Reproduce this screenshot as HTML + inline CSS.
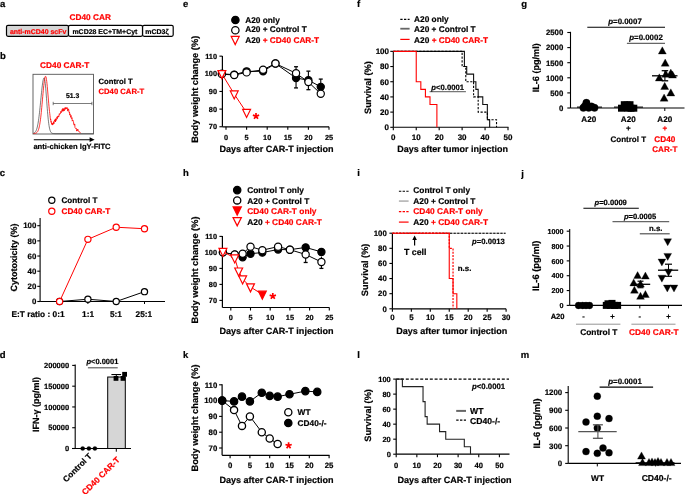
<!DOCTYPE html>
<html><head><meta charset="utf-8"><style>
html,body{margin:0;padding:0;background:#fff;width:685px;height:494px;overflow:hidden}
svg{display:block;will-change:transform}
text{font-family:"Liberation Sans",sans-serif;text-rendering:geometricPrecision}
</style></head><body>
<svg width="685" height="494" viewBox="0 0 685 494">
<text x="0.00" y="6.90" font-size="9.5" text-anchor="start" fill="#000" stroke="#000" stroke-width="0.2" font-weight="bold">a</text>
<text x="0.00" y="59.00" font-size="9.5" text-anchor="start" fill="#000" stroke="#000" stroke-width="0.2" font-weight="bold">b</text>
<text x="-0.30" y="176.10" font-size="9.5" text-anchor="start" fill="#000" stroke="#000" stroke-width="0.2" font-weight="bold">c</text>
<text x="-0.30" y="357.90" font-size="9.5" text-anchor="start" fill="#000" stroke="#000" stroke-width="0.2" font-weight="bold">d</text>
<text x="183.00" y="7.10" font-size="9.5" text-anchor="start" fill="#000" stroke="#000" stroke-width="0.2" font-weight="bold">e</text>
<text x="183.00" y="176.10" font-size="9.5" text-anchor="start" fill="#000" stroke="#000" stroke-width="0.2" font-weight="bold">h</text>
<text x="183.00" y="357.90" font-size="9.5" text-anchor="start" fill="#000" stroke="#000" stroke-width="0.2" font-weight="bold">k</text>
<text x="357.00" y="6.80" font-size="9.5" text-anchor="start" fill="#000" stroke="#000" stroke-width="0.2" font-weight="bold">f</text>
<text x="357.30" y="176.10" font-size="9.5" text-anchor="start" fill="#000" stroke="#000" stroke-width="0.2" font-weight="bold">i</text>
<text x="357.30" y="357.70" font-size="9.5" text-anchor="start" fill="#000" stroke="#000" stroke-width="0.2" font-weight="bold">l</text>
<text x="521.30" y="7.00" font-size="9.5" text-anchor="start" fill="#000" stroke="#000" stroke-width="0.2" font-weight="bold">g</text>
<text x="521.30" y="177.00" font-size="9.5" text-anchor="start" fill="#000" stroke="#000" stroke-width="0.2" font-weight="bold">j</text>
<text x="520.80" y="357.90" font-size="9.5" text-anchor="start" fill="#000" stroke="#000" stroke-width="0.2" font-weight="bold">m</text>
<text x="90.20" y="19.60" font-size="8.3" text-anchor="middle" fill="#ff0000" stroke="#ff0000" stroke-width="0.2" font-weight="bold">CD40 CAR</text>
<rect x="6.5" y="25.3" width="62" height="11" rx="1.5" fill="#d6d6d6" stroke="#000" stroke-width="1.2"/>
<rect x="68.5" y="25.3" width="74" height="11" rx="1.5" fill="#fff" stroke="#000" stroke-width="1.2"/>
<rect x="142.6" y="25.3" width="30.6" height="11" rx="1.5" fill="#fff" stroke="#000" stroke-width="1.2"/>
<text x="38.10" y="33.80" font-size="6.96" text-anchor="middle" fill="#ff0000" stroke="#ff0000" stroke-width="0.2" font-weight="bold">anti-mCD40 scFv</text>
<text x="104.90" y="33.80" font-size="6.96" text-anchor="middle" fill="#000" stroke="#000" stroke-width="0.2" font-weight="bold">mCD28 EC+TM+Cyt</text>
<text x="157.00" y="33.80" font-size="6.96" text-anchor="middle" fill="#000" stroke="#000" stroke-width="0.2" font-weight="bold">mCD3ζ</text>
<text x="64.70" y="67.80" font-size="8.3" text-anchor="middle" fill="#ff0000" stroke="#ff0000" stroke-width="0.2" font-weight="bold">CD40 CAR-T</text>
<rect x="33" y="74.3" width="60.5" height="59.7" fill="#fff" stroke="#555" stroke-width="0.9"/>
<polyline points="33.50,133.28 33.75,133.19 34.00,133.08 34.25,132.95 34.50,132.79 34.75,132.59 35.00,132.35 35.25,132.07 35.50,131.73 35.75,131.33 36.00,130.86 36.25,130.30 36.50,129.67 36.75,128.93 37.00,128.09 37.25,127.13 37.50,126.05 37.75,124.84 38.00,123.49 38.25,122.01 38.50,120.38 38.75,118.61 39.00,116.70 39.25,114.65 39.50,112.48 39.75,110.19 40.00,107.81 40.25,105.35 40.50,102.82 40.75,100.27 41.00,97.71 41.25,95.17 41.50,92.69 41.75,90.30 42.00,88.03 42.25,85.91 42.50,83.99 42.75,82.28 43.00,80.82 43.25,79.62 43.50,78.71 43.75,78.11 44.00,77.83 44.25,77.90 44.50,78.51 44.75,79.65 45.00,81.30 45.25,83.40 45.50,85.90 45.75,88.72 46.00,91.80 46.25,95.05 46.50,98.40 46.75,101.78 47.00,105.13 47.25,108.37 47.50,111.47 47.75,114.38 48.00,117.07 48.25,119.53 48.50,121.74 48.75,123.71 49.00,125.43 49.25,126.91 49.50,128.19 49.75,129.26 50.00,130.15 50.25,130.89 50.50,131.49 50.75,131.98 51.00,132.36 51.25,132.67 51.50,132.90 51.75,133.08 52.00,133.22 52.25,133.33 52.50,133.40 52.75,133.46 53.00,133.50 53.25,133.53 53.50,133.55 53.75,133.57 54.00,133.58 54.25,133.59 54.50,133.59 54.75,133.59 55.00,133.60 55.25,133.60 55.50,133.60 55.75,133.60 56.00,133.60 56.25,133.60 56.50,133.60 56.75,133.60 57.00,133.60 57.25,133.60 57.50,133.60 57.75,133.60 58.00,133.60 58.25,133.60 58.50,133.60 58.75,133.60 59.00,133.60 59.25,133.60 59.50,133.60 59.75,133.60 60.00,133.60 60.25,133.60 60.50,133.60 60.75,133.60 61.00,133.60 61.25,133.60 61.50,133.60 61.75,133.60 62.00,133.60 62.25,133.60 62.50,133.60 62.75,133.60 63.00,133.60 63.25,133.60 63.50,133.60 63.75,133.60 64.00,133.60 64.25,133.60 64.50,133.60 64.75,133.60 65.00,133.60 65.25,133.60 65.50,133.60 65.75,133.60 66.00,133.60 66.25,133.60 66.50,133.60 66.75,133.60 67.00,133.60 67.25,133.60 67.50,133.60 67.75,133.60 68.00,133.60 68.25,133.60 68.50,133.60 68.75,133.60 69.00,133.60 69.25,133.60 69.50,133.60 69.75,133.60 70.00,133.60 70.25,133.60 70.50,133.60 70.75,133.60 71.00,133.60 71.25,133.60 71.50,133.60 71.75,133.60 72.00,133.60 72.25,133.60 72.50,133.60 72.75,133.60 73.00,133.60 73.25,133.60 73.50,133.60 73.75,133.60 74.00,133.60 74.25,133.60 74.50,133.60 74.75,133.60 75.00,133.60 75.25,133.60 75.50,133.60 75.75,133.60 76.00,133.60 76.25,133.60 76.50,133.60 76.75,133.60 77.00,133.60 77.25,133.60 77.50,133.60 77.75,133.60 78.00,133.60 78.25,133.60 78.50,133.60 78.75,133.60 79.00,133.60 79.25,133.60 79.50,133.60 79.75,133.60 80.00,133.60 80.25,133.60 80.50,133.60 80.75,133.60 81.00,133.60 81.25,133.60 81.50,133.60 81.75,133.60 82.00,133.60 82.25,133.60 82.50,133.60 82.75,133.60 83.00,133.60 83.25,133.60 83.50,133.60 83.75,133.60 84.00,133.60 84.25,133.60 84.50,133.60 84.75,133.60 85.00,133.60 85.25,133.60 85.50,133.60 85.75,133.60 86.00,133.60 86.25,133.60 86.50,133.60 86.75,133.60 87.00,133.60 87.25,133.60 87.50,133.60 87.75,133.60 88.00,133.60 88.25,133.60 88.50,133.60 88.75,133.60 89.00,133.60 89.25,133.60 89.50,133.60 89.75,133.60 90.00,133.60 90.25,133.60 90.50,133.60 90.75,133.60 91.00,133.60 91.25,133.60 91.50,133.60 91.75,133.60 92.00,133.60 92.25,133.60 92.50,133.60 92.75,133.60 93.00,133.60 93.25,133.60" fill="none" stroke="#222" stroke-width="0.6"/>
<polyline points="33.50,133.51 33.75,133.50 34.00,133.48 34.25,133.46 34.50,133.44 34.75,133.41 35.00,133.37 35.25,133.32 35.50,133.25 35.75,133.17 36.00,133.07 36.25,132.95 36.50,132.80 36.75,132.61 37.00,132.38 37.25,132.11 37.50,131.77 37.75,131.36 38.00,130.88 38.25,130.30 38.50,129.63 38.75,128.84 39.00,127.93 39.25,126.87 39.50,125.67 39.75,124.32 40.00,122.80 40.25,121.11 40.50,119.24 40.75,117.21 41.00,115.00 41.25,112.64 41.50,110.14 41.75,107.51 42.00,104.78 42.25,101.97 42.50,99.13 42.75,96.28 43.00,93.47 43.25,90.73 43.50,88.12 43.75,85.67 44.00,83.43 44.25,81.44 44.50,79.73 44.75,78.34 45.00,77.29 45.25,76.59 45.50,76.27 45.75,76.39 46.00,77.00 46.25,78.09 46.50,79.61 46.75,81.53 47.00,83.79 47.25,86.33 47.50,89.08 47.75,91.99 48.00,94.97 48.25,97.97 48.50,100.93 48.75,103.79 49.00,106.52 49.25,109.07 49.50,111.43 49.75,113.56 50.00,115.46 50.25,117.76 50.50,119.82 50.75,119.23 51.00,122.32 51.25,121.46 51.50,122.70 51.75,124.27 52.00,122.98 52.25,124.87 52.50,123.53 52.75,124.85 53.00,124.69 53.25,123.35 53.50,121.71 53.75,124.00 54.00,123.37 54.25,121.62 54.50,120.14 54.75,121.13 55.00,121.43 55.25,118.97 55.50,121.94 55.75,118.63 56.00,120.29 56.25,120.42 56.50,120.12 56.75,119.04 57.00,116.82 57.25,118.71 57.50,116.87 57.75,116.27 58.00,116.83 58.25,115.81 58.50,117.17 58.75,116.80 59.00,115.90 59.25,113.82 59.50,114.37 59.75,114.42 60.00,113.09 60.25,113.22 60.50,113.44 60.75,111.33 61.00,111.36 61.25,112.69 61.50,111.21 61.75,111.11 62.00,109.58 62.25,109.84 62.50,111.19 62.75,108.47 63.00,111.35 63.25,110.07 63.50,108.66 63.75,110.67 64.00,109.30 64.25,110.78 64.50,108.39 64.75,107.94 65.00,108.54 65.25,107.37 65.50,109.34 65.75,107.92 66.00,108.27 66.25,108.31 66.50,108.79 66.75,107.50 67.00,107.25 67.25,109.13 67.50,108.67 67.75,111.12 68.00,109.13 68.25,109.69 68.50,108.85 68.75,109.90 69.00,112.31 69.25,112.46 69.50,111.98 69.75,114.87 70.00,113.88 70.25,115.55 70.50,116.36 70.75,117.22 71.00,115.32 71.25,118.29 71.50,118.53 71.75,118.69 72.00,117.64 72.25,121.16 72.50,120.51 72.75,120.81 73.00,120.26 73.25,121.13 73.50,121.60 73.75,124.32 74.00,124.43 74.25,125.21 74.50,123.88 74.75,124.16 75.00,127.58 75.25,127.99 75.50,128.27 75.75,128.72 76.00,128.25 76.25,128.28 76.50,129.85 76.75,131.15 77.00,130.00 77.25,130.50 77.50,130.10 77.75,128.99 78.00,130.20 78.25,131.08 78.50,130.94 78.75,130.94 79.00,131.77 79.25,131.95 79.50,132.11 79.75,132.26 80.00,132.40 80.25,132.53 80.50,132.64 80.75,132.74" fill="none" stroke="#ff0000" stroke-width="0.8"/>
<line x1="53.20" y1="103.50" x2="91.90" y2="103.50" stroke="#444" stroke-width="0.7"/>
<line x1="53.20" y1="101.80" x2="53.20" y2="105.20" stroke="#444" stroke-width="0.7"/>
<line x1="91.90" y1="101.80" x2="91.90" y2="105.20" stroke="#444" stroke-width="0.7"/>
<text x="72.60" y="97.70" font-size="6.8" text-anchor="middle" fill="#000" stroke="#000" stroke-width="0.2" font-weight="bold">51.3</text>
<line x1="33.80" y1="139.70" x2="91.00" y2="139.70" stroke="#000" stroke-width="1.1"/>
<polygon points="94.6,139.7 89.6,137.3 89.6,142.1" fill="#000"/>
<text x="72.00" y="149.30" font-size="7.6" text-anchor="middle" fill="#000" stroke="#000" stroke-width="0.2" font-weight="bold">anti-chicken IgY-FITC</text>
<text x="98.50" y="84.30" font-size="7.7" text-anchor="start" fill="#000" stroke="#000" stroke-width="0.2" font-weight="bold">Control T</text>
<text x="98.50" y="94.30" font-size="7.7" text-anchor="start" fill="#ff0000" stroke="#ff0000" stroke-width="0.2" font-weight="bold">CD40 CAR-T</text>
<line x1="40.10" y1="218.00" x2="40.10" y2="301.50" stroke="#000" stroke-width="1.1"/>
<line x1="40.10" y1="301.50" x2="165.00" y2="301.50" stroke="#000" stroke-width="1.1"/>
<line x1="37.30" y1="301.50" x2="40.10" y2="301.50" stroke="#000" stroke-width="1.1"/>
<text x="36.30" y="304.20" font-size="7.9" text-anchor="end" fill="#000" stroke="#000" stroke-width="0.2" font-weight="bold">0</text>
<line x1="37.30" y1="286.34" x2="40.10" y2="286.34" stroke="#000" stroke-width="1.1"/>
<text x="36.30" y="289.04" font-size="7.9" text-anchor="end" fill="#000" stroke="#000" stroke-width="0.2" font-weight="bold">20</text>
<line x1="37.30" y1="271.18" x2="40.10" y2="271.18" stroke="#000" stroke-width="1.1"/>
<text x="36.30" y="273.88" font-size="7.9" text-anchor="end" fill="#000" stroke="#000" stroke-width="0.2" font-weight="bold">40</text>
<line x1="37.30" y1="256.02" x2="40.10" y2="256.02" stroke="#000" stroke-width="1.1"/>
<text x="36.30" y="258.72" font-size="7.9" text-anchor="end" fill="#000" stroke="#000" stroke-width="0.2" font-weight="bold">60</text>
<line x1="37.30" y1="240.86" x2="40.10" y2="240.86" stroke="#000" stroke-width="1.1"/>
<text x="36.30" y="243.56" font-size="7.9" text-anchor="end" fill="#000" stroke="#000" stroke-width="0.2" font-weight="bold">80</text>
<line x1="37.30" y1="225.70" x2="40.10" y2="225.70" stroke="#000" stroke-width="1.1"/>
<text x="36.30" y="228.40" font-size="7.9" text-anchor="end" fill="#000" stroke="#000" stroke-width="0.2" font-weight="bold">100</text>
<line x1="87.90" y1="301.50" x2="87.90" y2="304.00" stroke="#000" stroke-width="1"/>
<line x1="116.20" y1="301.50" x2="116.20" y2="304.00" stroke="#000" stroke-width="1"/>
<line x1="144.50" y1="301.50" x2="144.50" y2="304.00" stroke="#000" stroke-width="1"/>
<text x="17.20" y="257.40" font-size="9.0" text-anchor="middle" fill="#000" stroke="#000" stroke-width="0.2" font-weight="bold" transform="rotate(-90 17.2 257.4)">Cytotoxicity (%)</text>
<polyline points="59.60,301.50 87.90,299.23 116.20,301.50 144.50,291.65" fill="none" stroke="#000" stroke-width="1"/>
<polyline points="59.60,301.50 87.90,239.34 116.20,227.22 144.50,228.73" fill="none" stroke="#ff0000" stroke-width="1"/>
<circle cx="59.60" cy="301.50" r="3.1" fill="#fff" stroke="#000" stroke-width="1.2"/>
<circle cx="87.90" cy="299.23" r="3.1" fill="#fff" stroke="#000" stroke-width="1.2"/>
<circle cx="116.20" cy="301.50" r="3.1" fill="#fff" stroke="#000" stroke-width="1.2"/>
<circle cx="144.50" cy="291.65" r="3.1" fill="#fff" stroke="#000" stroke-width="1.2"/>
<circle cx="59.60" cy="301.50" r="3.1" fill="#fff" stroke="#ff0000" stroke-width="1.2"/>
<circle cx="87.90" cy="239.34" r="3.1" fill="#fff" stroke="#ff0000" stroke-width="1.2"/>
<circle cx="116.20" cy="227.22" r="3.1" fill="#fff" stroke="#ff0000" stroke-width="1.2"/>
<circle cx="144.50" cy="228.73" r="3.1" fill="#fff" stroke="#ff0000" stroke-width="1.2"/>
<circle cx="51.80" cy="200.30" r="3.1" fill="#fff" stroke="#000" stroke-width="1.2"/>
<circle cx="51.80" cy="211.30" r="3.1" fill="#fff" stroke="#ff0000" stroke-width="1.2"/>
<text x="61.50" y="203.20" font-size="8.1" text-anchor="start" fill="#000" stroke="#000" stroke-width="0.2" font-weight="bold">Control T</text>
<text x="61.50" y="214.20" font-size="8.2" text-anchor="start" fill="#ff0000" stroke="#ff0000" stroke-width="0.2" font-weight="bold">CD40 CAR-T</text>
<text x="11.50" y="317.10" font-size="8.3" text-anchor="start" fill="#000" stroke="#000" stroke-width="0.2" font-weight="bold">E:T ratio : 0:1</text>
<text x="88.10" y="317.10" font-size="8.3" text-anchor="middle" fill="#000" stroke="#000" stroke-width="0.2" font-weight="bold">1:1</text>
<text x="115.90" y="317.10" font-size="8.3" text-anchor="middle" fill="#000" stroke="#000" stroke-width="0.2" font-weight="bold">5:1</text>
<text x="143.90" y="317.10" font-size="8.3" text-anchor="middle" fill="#000" stroke="#000" stroke-width="0.2" font-weight="bold">25:1</text>
<line x1="75.20" y1="364.50" x2="75.20" y2="448.50" stroke="#000" stroke-width="1.1"/>
<line x1="72.00" y1="448.50" x2="131.00" y2="448.50" stroke="#000" stroke-width="1.1"/>
<line x1="72.20" y1="448.50" x2="75.20" y2="448.50" stroke="#000" stroke-width="1.1"/>
<text x="69.20" y="451.10" font-size="7.55" text-anchor="end" fill="#000" stroke="#000" stroke-width="0.2" font-weight="bold">0</text>
<line x1="72.20" y1="427.73" x2="75.20" y2="427.73" stroke="#000" stroke-width="1.1"/>
<text x="69.20" y="430.33" font-size="7.55" text-anchor="end" fill="#000" stroke="#000" stroke-width="0.2" font-weight="bold">50000</text>
<line x1="72.20" y1="406.95" x2="75.20" y2="406.95" stroke="#000" stroke-width="1.1"/>
<text x="69.20" y="409.55" font-size="7.55" text-anchor="end" fill="#000" stroke="#000" stroke-width="0.2" font-weight="bold">100000</text>
<line x1="72.20" y1="386.18" x2="75.20" y2="386.18" stroke="#000" stroke-width="1.1"/>
<text x="69.20" y="388.78" font-size="7.55" text-anchor="end" fill="#000" stroke="#000" stroke-width="0.2" font-weight="bold">150000</text>
<line x1="72.20" y1="365.40" x2="75.20" y2="365.40" stroke="#000" stroke-width="1.1"/>
<text x="69.20" y="368.00" font-size="7.55" text-anchor="end" fill="#000" stroke="#000" stroke-width="0.2" font-weight="bold">200000</text>
<text x="39.20" y="404.50" font-size="9" text-anchor="middle" fill="#000" stroke="#000" stroke-width="0.2" font-weight="bold" transform="rotate(-90 39.2 404.5)">IFN-γ (pg/ml)</text>
<rect x="107.7" y="377.03" width="17.6" height="71.47" fill="#d6d6d6" stroke="#000" stroke-width="1"/>
<line x1="116.30" y1="448.50" x2="116.30" y2="451.70" stroke="#000" stroke-width="1"/>
<line x1="116.30" y1="377.03" x2="116.30" y2="374.54" stroke="#000" stroke-width="1"/>
<line x1="111.40" y1="374.54" x2="121.10" y2="374.54" stroke="#000" stroke-width="1.1"/>
<circle cx="82.70" cy="448.50" r="2.1" fill="#000" stroke="#000" stroke-width="0.3"/>
<circle cx="88.90" cy="448.50" r="2.1" fill="#000" stroke="#000" stroke-width="0.3"/>
<circle cx="94.90" cy="448.50" r="2.1" fill="#000" stroke="#000" stroke-width="0.3"/>
<rect x="113.60" y="376.00" width="4.8" height="4.8" fill="#000"/>
<rect x="120.60" y="376.00" width="4.8" height="4.8" fill="#000"/>
<rect x="122.20" y="371.90" width="4.8" height="4.8" fill="#000"/>
<line x1="87.90" y1="367.75" x2="117.70" y2="367.75" stroke="#777" stroke-width="1.4"/>
<text x="102.40" y="363.60" font-size="7.5" text-anchor="middle" fill="#000" stroke="#000" stroke-width="0.2" font-weight="bold"><tspan font-style="italic">p</tspan>&lt;0.0001</text>
<text x="92.40" y="456.60" font-size="8.3" text-anchor="end" fill="#000" stroke="#000" stroke-width="0.2" font-weight="bold" transform="rotate(-45 92.4 456.6)">Control T</text>
<text x="120.50" y="460.40" font-size="8.4" text-anchor="end" fill="#ff0000" stroke="#ff0000" stroke-width="0.2" font-weight="bold" transform="rotate(-45 120.5 460.4)">CD40 CAR-T</text>
<line x1="222.40" y1="56.10" x2="222.40" y2="126.80" stroke="#000" stroke-width="1.2"/>
<line x1="222.40" y1="126.80" x2="329.00" y2="126.80" stroke="#000" stroke-width="1.2"/>
<line x1="219.40" y1="126.75" x2="222.40" y2="126.75" stroke="#000" stroke-width="1.1"/>
<text x="217.00" y="129.35" font-size="7.35" text-anchor="end" fill="#000" stroke="#000" stroke-width="0.2" font-weight="bold">70</text>
<line x1="219.40" y1="109.10" x2="222.40" y2="109.10" stroke="#000" stroke-width="1.1"/>
<text x="217.00" y="111.70" font-size="7.35" text-anchor="end" fill="#000" stroke="#000" stroke-width="0.2" font-weight="bold">80</text>
<line x1="219.40" y1="91.45" x2="222.40" y2="91.45" stroke="#000" stroke-width="1.1"/>
<text x="217.00" y="94.05" font-size="7.35" text-anchor="end" fill="#000" stroke="#000" stroke-width="0.2" font-weight="bold">90</text>
<line x1="219.40" y1="73.80" x2="222.40" y2="73.80" stroke="#000" stroke-width="1.1"/>
<text x="217.00" y="76.40" font-size="7.35" text-anchor="end" fill="#000" stroke="#000" stroke-width="0.2" font-weight="bold">100</text>
<line x1="219.40" y1="56.15" x2="222.40" y2="56.15" stroke="#000" stroke-width="1.1"/>
<text x="217.00" y="58.75" font-size="7.35" text-anchor="end" fill="#000" stroke="#000" stroke-width="0.2" font-weight="bold">110</text>
<line x1="226.00" y1="126.80" x2="226.00" y2="129.80" stroke="#000" stroke-width="1.1"/>
<text x="226.00" y="139.50" font-size="7.35" text-anchor="middle" fill="#000" stroke="#000" stroke-width="0.2" font-weight="bold">0</text>
<line x1="246.60" y1="126.80" x2="246.60" y2="129.80" stroke="#000" stroke-width="1.1"/>
<text x="246.60" y="139.50" font-size="7.35" text-anchor="middle" fill="#000" stroke="#000" stroke-width="0.2" font-weight="bold">5</text>
<line x1="267.20" y1="126.80" x2="267.20" y2="129.80" stroke="#000" stroke-width="1.1"/>
<text x="267.20" y="139.50" font-size="7.35" text-anchor="middle" fill="#000" stroke="#000" stroke-width="0.2" font-weight="bold">10</text>
<line x1="287.80" y1="126.80" x2="287.80" y2="129.80" stroke="#000" stroke-width="1.1"/>
<text x="287.80" y="139.50" font-size="7.35" text-anchor="middle" fill="#000" stroke="#000" stroke-width="0.2" font-weight="bold">15</text>
<line x1="308.40" y1="126.80" x2="308.40" y2="129.80" stroke="#000" stroke-width="1.1"/>
<text x="308.40" y="139.50" font-size="7.35" text-anchor="middle" fill="#000" stroke="#000" stroke-width="0.2" font-weight="bold">20</text>
<line x1="329.00" y1="126.80" x2="329.00" y2="129.80" stroke="#000" stroke-width="1.1"/>
<text x="329.00" y="139.50" font-size="7.35" text-anchor="middle" fill="#000" stroke="#000" stroke-width="0.2" font-weight="bold">25</text>
<text x="276.50" y="151.50" font-size="9.06" text-anchor="middle" fill="#000" stroke="#000" stroke-width="0.2" font-weight="bold">Days after CAR-T injection</text>
<text x="198.10" y="89.30" font-size="9.28" text-anchor="middle" fill="#000" stroke="#000" stroke-width="0.2" font-weight="bold" transform="rotate(-90 198.1 89.3)">Body weight change (%)</text>
<line x1="296.04" y1="66.74" x2="296.04" y2="87.92" stroke="#000" stroke-width="1.1"/>
<line x1="294.04" y1="66.74" x2="298.04" y2="66.74" stroke="#000" stroke-width="1.3"/>
<line x1="294.04" y1="87.92" x2="298.04" y2="87.92" stroke="#000" stroke-width="1.3"/>
<line x1="308.40" y1="71.15" x2="308.40" y2="89.69" stroke="#000" stroke-width="1.1"/>
<line x1="306.40" y1="71.15" x2="310.40" y2="71.15" stroke="#000" stroke-width="1.3"/>
<line x1="306.40" y1="89.69" x2="310.40" y2="89.69" stroke="#000" stroke-width="1.3"/>
<line x1="320.76" y1="79.09" x2="320.76" y2="93.22" stroke="#000" stroke-width="1.1"/>
<line x1="318.76" y1="79.09" x2="322.76" y2="79.09" stroke="#000" stroke-width="1.3"/>
<line x1="318.76" y1="93.22" x2="322.76" y2="93.22" stroke="#000" stroke-width="1.3"/>
<polyline points="221.88,73.80 234.24,74.68 246.60,71.33 263.08,71.33 275.44,63.56 296.04,78.04 308.40,80.15 320.76,86.86" fill="none" stroke="#000" stroke-width="1"/>
<polyline points="221.88,74.15 234.24,75.04 246.60,72.39 263.08,69.74 275.44,63.56 296.04,73.27 308.40,82.10 320.76,93.74" fill="none" stroke="#000" stroke-width="1"/>
<circle cx="221.88" cy="73.80" r="3.6" fill="#000" stroke="#000" stroke-width="1.2"/>
<circle cx="234.24" cy="74.68" r="3.6" fill="#000" stroke="#000" stroke-width="1.2"/>
<circle cx="246.60" cy="71.33" r="3.6" fill="#000" stroke="#000" stroke-width="1.2"/>
<circle cx="263.08" cy="71.33" r="3.6" fill="#000" stroke="#000" stroke-width="1.2"/>
<circle cx="275.44" cy="63.56" r="3.6" fill="#000" stroke="#000" stroke-width="1.2"/>
<circle cx="296.04" cy="78.04" r="3.6" fill="#000" stroke="#000" stroke-width="1.2"/>
<circle cx="308.40" cy="80.15" r="3.6" fill="#000" stroke="#000" stroke-width="1.2"/>
<circle cx="320.76" cy="86.86" r="3.6" fill="#000" stroke="#000" stroke-width="1.2"/>
<circle cx="221.88" cy="74.15" r="3.6" fill="#fff" stroke="#000" stroke-width="1.2"/>
<circle cx="234.24" cy="75.04" r="3.6" fill="#fff" stroke="#000" stroke-width="1.2"/>
<circle cx="246.60" cy="72.39" r="3.6" fill="#fff" stroke="#000" stroke-width="1.2"/>
<circle cx="263.08" cy="69.74" r="3.6" fill="#fff" stroke="#000" stroke-width="1.2"/>
<circle cx="275.44" cy="63.56" r="3.6" fill="#fff" stroke="#000" stroke-width="1.2"/>
<circle cx="296.04" cy="73.27" r="3.6" fill="#fff" stroke="#000" stroke-width="1.2"/>
<circle cx="308.40" cy="82.10" r="3.6" fill="#fff" stroke="#000" stroke-width="1.2"/>
<circle cx="320.76" cy="93.74" r="3.6" fill="#fff" stroke="#000" stroke-width="1.2"/>
<polyline points="221.88,73.80 234.24,94.10 246.60,112.63" fill="none" stroke="#ff0000" stroke-width="1"/>
<polygon points="217.93,70.60 225.83,70.60 221.88,78.60" fill="#fff" stroke="#ff0000" stroke-width="1.2" stroke-linejoin="miter"/>
<polygon points="230.29,90.90 238.19,90.90 234.24,98.90" fill="#fff" stroke="#ff0000" stroke-width="1.2" stroke-linejoin="miter"/>
<polygon points="242.65,109.43 250.55,109.43 246.60,117.43" fill="#fff" stroke="#ff0000" stroke-width="1.2" stroke-linejoin="miter"/>
<path d="M256.00,116.20L256.00,112.90M256.00,116.20L259.14,115.18M256.00,116.20L257.94,118.87M256.00,116.20L254.06,118.87M256.00,116.20L252.86,115.18" stroke="#ff0000" stroke-width="1.7" fill="none"/>
<circle cx="235.40" cy="20.00" r="3.7" fill="#000" stroke="#000" stroke-width="1.2"/>
<circle cx="235.35" cy="30.25" r="3.7" fill="#fff" stroke="#000" stroke-width="1.2"/>
<polygon points="231.20,36.40 239.20,36.40 235.20,44.60" fill="#fff" stroke="#ff0000" stroke-width="1.2" stroke-linejoin="miter"/>
<text x="245.20" y="22.50" font-size="8.3" text-anchor="start" fill="#000" stroke="#000" stroke-width="0.2" font-weight="bold">A20 only</text>
<text x="245.20" y="31.85" font-size="8.3" text-anchor="start" fill="#000" stroke="#000" stroke-width="0.2" font-weight="bold">A20 + Control T</text>
<text x="245.20" y="42.60" font-size="8.3" text-anchor="start" fill="#000" stroke="#000" stroke-width="0.2" font-weight="bold">A20 <tspan fill="#ff0000" stroke="#ff0000">+ CD40 CAR-T</tspan></text>
<line x1="393.30" y1="51.20" x2="393.30" y2="127.30" stroke="#000" stroke-width="1.1"/>
<line x1="393.30" y1="127.30" x2="508.50" y2="127.30" stroke="#000" stroke-width="1.1"/>
<line x1="390.30" y1="127.30" x2="393.30" y2="127.30" stroke="#000" stroke-width="1.1"/>
<text x="389.00" y="130.20" font-size="8.0" text-anchor="end" fill="#000" stroke="#000" stroke-width="0.2" font-weight="bold">0</text>
<line x1="390.30" y1="112.11" x2="393.30" y2="112.11" stroke="#000" stroke-width="1.1"/>
<text x="389.00" y="115.01" font-size="8.0" text-anchor="end" fill="#000" stroke="#000" stroke-width="0.2" font-weight="bold">20</text>
<line x1="390.30" y1="96.92" x2="393.30" y2="96.92" stroke="#000" stroke-width="1.1"/>
<text x="389.00" y="99.82" font-size="8.0" text-anchor="end" fill="#000" stroke="#000" stroke-width="0.2" font-weight="bold">40</text>
<line x1="390.30" y1="81.73" x2="393.30" y2="81.73" stroke="#000" stroke-width="1.1"/>
<text x="389.00" y="84.63" font-size="8.0" text-anchor="end" fill="#000" stroke="#000" stroke-width="0.2" font-weight="bold">60</text>
<line x1="390.30" y1="66.54" x2="393.30" y2="66.54" stroke="#000" stroke-width="1.1"/>
<text x="389.00" y="69.44" font-size="8.0" text-anchor="end" fill="#000" stroke="#000" stroke-width="0.2" font-weight="bold">80</text>
<line x1="390.30" y1="51.35" x2="393.30" y2="51.35" stroke="#000" stroke-width="1.1"/>
<text x="389.00" y="54.25" font-size="8.0" text-anchor="end" fill="#000" stroke="#000" stroke-width="0.2" font-weight="bold">100</text>
<line x1="393.30" y1="127.30" x2="393.30" y2="130.30" stroke="#000" stroke-width="1.1"/>
<text x="393.30" y="139.60" font-size="8.0" text-anchor="middle" fill="#000" stroke="#000" stroke-width="0.2" font-weight="bold">0</text>
<line x1="416.24" y1="127.30" x2="416.24" y2="130.30" stroke="#000" stroke-width="1.1"/>
<text x="416.24" y="139.60" font-size="8.0" text-anchor="middle" fill="#000" stroke="#000" stroke-width="0.2" font-weight="bold">10</text>
<line x1="439.18" y1="127.30" x2="439.18" y2="130.30" stroke="#000" stroke-width="1.1"/>
<text x="439.18" y="139.60" font-size="8.0" text-anchor="middle" fill="#000" stroke="#000" stroke-width="0.2" font-weight="bold">20</text>
<line x1="462.12" y1="127.30" x2="462.12" y2="130.30" stroke="#000" stroke-width="1.1"/>
<text x="462.12" y="139.60" font-size="8.0" text-anchor="middle" fill="#000" stroke="#000" stroke-width="0.2" font-weight="bold">30</text>
<line x1="485.06" y1="127.30" x2="485.06" y2="130.30" stroke="#000" stroke-width="1.1"/>
<text x="485.06" y="139.60" font-size="8.0" text-anchor="middle" fill="#000" stroke="#000" stroke-width="0.2" font-weight="bold">40</text>
<line x1="508.00" y1="127.30" x2="508.00" y2="130.30" stroke="#000" stroke-width="1.1"/>
<text x="508.00" y="139.60" font-size="8.0" text-anchor="middle" fill="#000" stroke="#000" stroke-width="0.2" font-weight="bold">50</text>
<text x="452.60" y="152.00" font-size="8.98" text-anchor="middle" fill="#000" stroke="#000" stroke-width="0.2" font-weight="bold">Days after tumor injection</text>
<text x="371.00" y="87.60" font-size="9.2" text-anchor="middle" fill="#000" stroke="#000" stroke-width="0.2" font-weight="bold" transform="rotate(-90 371 87.6)">Survival (%)</text>
<polyline points="393.30,51.35 464.41,51.35 464.41,66.54 466.71,66.54 466.71,74.13 473.59,74.13 473.59,81.73 475.88,81.73 475.88,89.33 478.18,89.33 478.18,96.92 482.77,96.92 482.77,104.52 487.35,104.52 487.35,119.70 489.65,119.70 489.65,127.30" fill="none" stroke="#111" stroke-width="1.1"/>
<polyline points="393.30,51.35 462.12,51.35 462.12,66.54 465.79,66.54 465.79,81.73 473.59,81.73 473.59,96.92 478.18,96.92 478.18,112.11 487.35,112.11 487.35,119.70 496.53,119.70 496.53,127.30" fill="none" stroke="#000" stroke-width="1.1" stroke-dasharray="2.2,1.5"/>
<polyline points="393.30,51.35 416.24,51.35 416.24,81.73 420.83,81.73 420.83,89.33 425.42,89.33 425.42,96.92 430.00,96.92 430.00,104.52 436.89,104.52 436.89,127.30" fill="none" stroke="#ff0000" stroke-width="1.1"/>
<line x1="429.60" y1="91.70" x2="465.90" y2="91.70" stroke="#777" stroke-width="1.3"/>
<text x="447.70" y="90.00" font-size="7.7" text-anchor="middle" fill="#000" stroke="#000" stroke-width="0.2" font-weight="bold"><tspan font-style="italic">p</tspan>&lt;0.0001</text>
<line x1="400.30" y1="19.30" x2="409.60" y2="19.30" stroke="#000" stroke-width="1.3" stroke-dasharray="2.3,1.4"/>
<line x1="400.30" y1="28.70" x2="409.60" y2="28.70" stroke="#666" stroke-width="1.8"/>
<line x1="400.30" y1="39.40" x2="409.60" y2="39.40" stroke="#ff0000" stroke-width="1.2"/>
<text x="414.10" y="22.40" font-size="8.3" text-anchor="start" fill="#000" stroke="#000" stroke-width="0.2" font-weight="bold">A20 only</text>
<text x="414.10" y="31.85" font-size="8.3" text-anchor="start" fill="#000" stroke="#000" stroke-width="0.2" font-weight="bold">A20 + Control T</text>
<text x="414.10" y="42.60" font-size="8.3" text-anchor="start" fill="#000" stroke="#000" stroke-width="0.2" font-weight="bold">A20 <tspan fill="#ff0000" stroke="#ff0000">+ CD40 CAR-T</tspan></text>
<line x1="570.50" y1="31.80" x2="570.50" y2="108.00" stroke="#000" stroke-width="1.1"/>
<line x1="570.50" y1="108.00" x2="684.50" y2="108.00" stroke="#000" stroke-width="1.2"/>
<line x1="567.30" y1="108.00" x2="570.50" y2="108.00" stroke="#000" stroke-width="1.1"/>
<text x="563.30" y="110.80" font-size="7.8" text-anchor="end" fill="#000" stroke="#000" stroke-width="0.2" font-weight="bold">0</text>
<line x1="567.30" y1="92.90" x2="570.50" y2="92.90" stroke="#000" stroke-width="1.1"/>
<text x="563.30" y="95.70" font-size="7.8" text-anchor="end" fill="#000" stroke="#000" stroke-width="0.2" font-weight="bold">500</text>
<line x1="567.30" y1="77.80" x2="570.50" y2="77.80" stroke="#000" stroke-width="1.1"/>
<text x="563.30" y="80.60" font-size="7.8" text-anchor="end" fill="#000" stroke="#000" stroke-width="0.2" font-weight="bold">1000</text>
<line x1="567.30" y1="62.70" x2="570.50" y2="62.70" stroke="#000" stroke-width="1.1"/>
<text x="563.30" y="65.50" font-size="7.8" text-anchor="end" fill="#000" stroke="#000" stroke-width="0.2" font-weight="bold">1500</text>
<line x1="567.30" y1="47.60" x2="570.50" y2="47.60" stroke="#000" stroke-width="1.1"/>
<text x="563.30" y="50.40" font-size="7.8" text-anchor="end" fill="#000" stroke="#000" stroke-width="0.2" font-weight="bold">2000</text>
<line x1="567.30" y1="32.50" x2="570.50" y2="32.50" stroke="#000" stroke-width="1.1"/>
<text x="563.30" y="35.30" font-size="7.8" text-anchor="end" fill="#000" stroke="#000" stroke-width="0.2" font-weight="bold">2500</text>
<text x="539.20" y="67.80" font-size="9.1" text-anchor="middle" fill="#000" stroke="#000" stroke-width="0.2" font-weight="bold" transform="rotate(-90 539.2 67.8)">IL-6 (pg/ml)</text>
<line x1="588.80" y1="108.00" x2="588.80" y2="111.00" stroke="#000" stroke-width="1"/>
<line x1="628.30" y1="108.00" x2="628.30" y2="111.00" stroke="#000" stroke-width="1"/>
<line x1="664.80" y1="108.00" x2="664.80" y2="111.00" stroke="#000" stroke-width="1"/>
<text x="588.80" y="121.90" font-size="8.1" text-anchor="middle" fill="#000" stroke="#000" stroke-width="0.2" font-weight="bold">A20</text>
<text x="628.30" y="121.90" font-size="8.1" text-anchor="middle" fill="#000" stroke="#000" stroke-width="0.2" font-weight="bold">A20</text>
<text x="628.30" y="131.00" font-size="8.1" text-anchor="middle" fill="#000" stroke="#000" stroke-width="0.2" font-weight="bold">+</text>
<text x="628.30" y="141.60" font-size="8.0" text-anchor="middle" fill="#000" stroke="#000" stroke-width="0.2" font-weight="bold">Control T</text>
<text x="664.80" y="121.90" font-size="8.1" text-anchor="middle" fill="#000" stroke="#000" stroke-width="0.2" font-weight="bold">A20</text>
<text x="664.80" y="131.00" font-size="8.1" text-anchor="middle" fill="#ff0000" stroke="#ff0000" stroke-width="0.2" font-weight="bold">+</text>
<text x="664.80" y="141.60" font-size="8.2" text-anchor="middle" fill="#ff0000" stroke="#ff0000" stroke-width="0.2" font-weight="bold">CD40</text>
<text x="664.80" y="151.60" font-size="8.1" text-anchor="middle" fill="#ff0000" stroke="#ff0000" stroke-width="0.2" font-weight="bold">CAR-T</text>
<line x1="587.30" y1="27.20" x2="665.00" y2="27.20" stroke="#000" stroke-width="1.1"/>
<line x1="626.90" y1="43.40" x2="665.00" y2="43.40" stroke="#666" stroke-width="1.1"/>
<text x="625.00" y="24.10" font-size="7.9" text-anchor="middle" fill="#000" stroke="#000" stroke-width="0.2" font-weight="bold"><tspan font-style="italic">p</tspan>=0.0007</text>
<text x="646.00" y="40.30" font-size="7.9" text-anchor="middle" fill="#000" stroke="#000" stroke-width="0.2" font-weight="bold"><tspan font-style="italic">p</tspan>=0.0002</text>
<line x1="577.00" y1="107.20" x2="602.00" y2="107.20" stroke="#222" stroke-width="1.4"/>
<line x1="614.00" y1="107.20" x2="643.00" y2="107.20" stroke="#222" stroke-width="1.4"/>
<circle cx="583.40" cy="107.80" r="3.7" fill="#000" stroke="#000" stroke-width="0.3"/>
<circle cx="586.40" cy="102.80" r="3.7" fill="#000" stroke="#000" stroke-width="0.3"/>
<circle cx="588.70" cy="107.80" r="3.7" fill="#000" stroke="#000" stroke-width="0.3"/>
<circle cx="594.50" cy="107.80" r="3.7" fill="#000" stroke="#000" stroke-width="0.3"/>
<circle cx="591.50" cy="106.50" r="3.7" fill="#000" stroke="#000" stroke-width="0.3"/>
<circle cx="585.00" cy="106.00" r="3.7" fill="#000" stroke="#000" stroke-width="0.3"/>
<rect x="618.00" y="104.70" width="7.0" height="7.0" fill="#000"/>
<rect x="620.80" y="101.20" width="7.0" height="7.0" fill="#000"/>
<rect x="624.50" y="104.70" width="7.0" height="7.0" fill="#000"/>
<rect x="627.50" y="104.70" width="7.0" height="7.0" fill="#000"/>
<rect x="630.30" y="104.70" width="7.0" height="7.0" fill="#000"/>
<rect x="626.50" y="101.20" width="7.0" height="7.0" fill="#000"/>
<rect x="623.50" y="101.50" width="7.0" height="7.0" fill="#000"/>
<polygon points="658.30,54.00 666.30,54.00 662.30,46.80" fill="#000" stroke="#000" stroke-width="0.3" stroke-linejoin="miter"/>
<polygon points="661.20,66.20 669.20,66.20 665.20,59.00" fill="#000" stroke="#000" stroke-width="0.3" stroke-linejoin="miter"/>
<polygon points="666.80,76.30 674.80,76.30 670.80,69.10" fill="#000" stroke="#000" stroke-width="0.3" stroke-linejoin="miter"/>
<polygon points="668.50,78.10 676.50,78.10 672.50,70.90" fill="#000" stroke="#000" stroke-width="0.3" stroke-linejoin="miter"/>
<polygon points="661.80,77.30 669.80,77.30 665.80,70.10" fill="#000" stroke="#000" stroke-width="0.3" stroke-linejoin="miter"/>
<polygon points="655.30,81.00 663.30,81.00 659.30,73.80" fill="#000" stroke="#000" stroke-width="0.3" stroke-linejoin="miter"/>
<polygon points="660.70,89.50 668.70,89.50 664.70,82.30" fill="#000" stroke="#000" stroke-width="0.3" stroke-linejoin="miter"/>
<polygon points="666.80,96.00 674.80,96.00 670.80,88.80" fill="#000" stroke="#000" stroke-width="0.3" stroke-linejoin="miter"/>
<polygon points="660.10,101.20 668.10,101.20 664.10,94.00" fill="#000" stroke="#000" stroke-width="0.3" stroke-linejoin="miter"/>
<line x1="652.00" y1="75.80" x2="677.50" y2="75.80" stroke="#000" stroke-width="1.3"/>
<line x1="664.90" y1="70.70" x2="664.90" y2="80.80" stroke="#000" stroke-width="1.1"/>
<line x1="661.70" y1="70.70" x2="668.20" y2="70.70" stroke="#000" stroke-width="1.3"/>
<line x1="661.70" y1="80.80" x2="668.20" y2="80.80" stroke="#000" stroke-width="1.3"/>
<line x1="222.40" y1="236.10" x2="222.40" y2="307.50" stroke="#000" stroke-width="1.2"/>
<line x1="222.40" y1="307.50" x2="329.40" y2="307.50" stroke="#000" stroke-width="1.2"/>
<line x1="219.40" y1="300.40" x2="222.40" y2="300.40" stroke="#000" stroke-width="1.1"/>
<text x="217.00" y="303.00" font-size="7.35" text-anchor="end" fill="#000" stroke="#000" stroke-width="0.2" font-weight="bold">70</text>
<line x1="219.40" y1="284.40" x2="222.40" y2="284.40" stroke="#000" stroke-width="1.1"/>
<text x="217.00" y="287.00" font-size="7.35" text-anchor="end" fill="#000" stroke="#000" stroke-width="0.2" font-weight="bold">80</text>
<line x1="219.40" y1="268.40" x2="222.40" y2="268.40" stroke="#000" stroke-width="1.1"/>
<text x="217.00" y="271.00" font-size="7.35" text-anchor="end" fill="#000" stroke="#000" stroke-width="0.2" font-weight="bold">90</text>
<line x1="219.40" y1="252.40" x2="222.40" y2="252.40" stroke="#000" stroke-width="1.1"/>
<text x="217.00" y="255.00" font-size="7.35" text-anchor="end" fill="#000" stroke="#000" stroke-width="0.2" font-weight="bold">100</text>
<line x1="219.40" y1="236.40" x2="222.40" y2="236.40" stroke="#000" stroke-width="1.1"/>
<text x="217.00" y="239.00" font-size="7.35" text-anchor="end" fill="#000" stroke="#000" stroke-width="0.2" font-weight="bold">110</text>
<line x1="230.80" y1="307.50" x2="230.80" y2="310.50" stroke="#000" stroke-width="1.1"/>
<text x="230.80" y="319.60" font-size="7.35" text-anchor="middle" fill="#000" stroke="#000" stroke-width="0.2" font-weight="bold">0</text>
<line x1="250.50" y1="307.50" x2="250.50" y2="310.50" stroke="#000" stroke-width="1.1"/>
<text x="250.50" y="319.60" font-size="7.35" text-anchor="middle" fill="#000" stroke="#000" stroke-width="0.2" font-weight="bold">5</text>
<line x1="270.20" y1="307.50" x2="270.20" y2="310.50" stroke="#000" stroke-width="1.1"/>
<text x="270.20" y="319.60" font-size="7.35" text-anchor="middle" fill="#000" stroke="#000" stroke-width="0.2" font-weight="bold">10</text>
<line x1="289.90" y1="307.50" x2="289.90" y2="310.50" stroke="#000" stroke-width="1.1"/>
<text x="289.90" y="319.60" font-size="7.35" text-anchor="middle" fill="#000" stroke="#000" stroke-width="0.2" font-weight="bold">15</text>
<line x1="309.60" y1="307.50" x2="309.60" y2="310.50" stroke="#000" stroke-width="1.1"/>
<text x="309.60" y="319.60" font-size="7.35" text-anchor="middle" fill="#000" stroke="#000" stroke-width="0.2" font-weight="bold">20</text>
<line x1="329.30" y1="307.50" x2="329.30" y2="310.50" stroke="#000" stroke-width="1.1"/>
<text x="329.30" y="319.60" font-size="7.35" text-anchor="middle" fill="#000" stroke="#000" stroke-width="0.2" font-weight="bold">25</text>
<text x="276.50" y="333.70" font-size="9.06" text-anchor="middle" fill="#000" stroke="#000" stroke-width="0.2" font-weight="bold">Days after CAR-T injection</text>
<text x="198.10" y="270.00" font-size="9.28" text-anchor="middle" fill="#000" stroke="#000" stroke-width="0.2" font-weight="bold" transform="rotate(-90 198.1 270)">Body weight change (%)</text>
<line x1="305.66" y1="250.80" x2="305.66" y2="262.48" stroke="#000" stroke-width="1.1"/>
<line x1="303.66" y1="262.48" x2="307.66" y2="262.48" stroke="#000" stroke-width="1.3"/>
<line x1="321.42" y1="256.40" x2="321.42" y2="268.40" stroke="#000" stroke-width="1.1"/>
<line x1="319.42" y1="268.40" x2="323.42" y2="268.40" stroke="#000" stroke-width="1.3"/>
<polyline points="222.92,252.40 234.74,254.80 242.62,257.20 250.50,253.68 262.32,252.56 278.08,249.52 289.90,249.68 305.66,247.44 321.42,251.92" fill="none" stroke="#000" stroke-width="1"/>
<polyline points="222.92,252.40 234.74,254.48 242.62,253.68 250.50,246.64 262.32,250.16 278.08,246.64 289.90,249.68 305.66,254.48 321.42,262.00" fill="none" stroke="#000" stroke-width="1"/>
<circle cx="222.92" cy="252.40" r="3.6" fill="#000" stroke="#000" stroke-width="1.2"/>
<circle cx="234.74" cy="254.80" r="3.6" fill="#000" stroke="#000" stroke-width="1.2"/>
<circle cx="242.62" cy="257.20" r="3.6" fill="#000" stroke="#000" stroke-width="1.2"/>
<circle cx="250.50" cy="253.68" r="3.6" fill="#000" stroke="#000" stroke-width="1.2"/>
<circle cx="262.32" cy="252.56" r="3.6" fill="#000" stroke="#000" stroke-width="1.2"/>
<circle cx="278.08" cy="249.52" r="3.6" fill="#000" stroke="#000" stroke-width="1.2"/>
<circle cx="289.90" cy="249.68" r="3.6" fill="#000" stroke="#000" stroke-width="1.2"/>
<circle cx="305.66" cy="247.44" r="3.6" fill="#000" stroke="#000" stroke-width="1.2"/>
<circle cx="321.42" cy="251.92" r="3.6" fill="#000" stroke="#000" stroke-width="1.2"/>
<circle cx="222.92" cy="252.40" r="3.6" fill="#fff" stroke="#000" stroke-width="1.2"/>
<circle cx="234.74" cy="254.48" r="3.6" fill="#fff" stroke="#000" stroke-width="1.2"/>
<circle cx="242.62" cy="253.68" r="3.6" fill="#fff" stroke="#000" stroke-width="1.2"/>
<circle cx="250.50" cy="246.64" r="3.6" fill="#fff" stroke="#000" stroke-width="1.2"/>
<circle cx="262.32" cy="250.16" r="3.6" fill="#fff" stroke="#000" stroke-width="1.2"/>
<circle cx="278.08" cy="246.64" r="3.6" fill="#fff" stroke="#000" stroke-width="1.2"/>
<circle cx="289.90" cy="249.68" r="3.6" fill="#fff" stroke="#000" stroke-width="1.2"/>
<circle cx="305.66" cy="254.48" r="3.6" fill="#fff" stroke="#000" stroke-width="1.2"/>
<circle cx="321.42" cy="262.00" r="3.6" fill="#fff" stroke="#000" stroke-width="1.2"/>
<polyline points="222.92,251.60 234.74,258.10 238.68,271.20 242.62,279.10 250.50,287.00 262.32,294.40" fill="none" stroke="#ff0000" stroke-width="1"/>
<polygon points="218.97,248.40 226.87,248.40 222.92,256.40" fill="#fff" stroke="#ff0000" stroke-width="1.2" stroke-linejoin="miter"/>
<polygon points="230.79,254.90 238.69,254.90 234.74,262.90" fill="#fff" stroke="#ff0000" stroke-width="1.2" stroke-linejoin="miter"/>
<polygon points="234.73,268.00 242.63,268.00 238.68,276.00" fill="#fff" stroke="#ff0000" stroke-width="1.2" stroke-linejoin="miter"/>
<polygon points="238.67,275.90 246.57,275.90 242.62,283.90" fill="#fff" stroke="#ff0000" stroke-width="1.2" stroke-linejoin="miter"/>
<polygon points="246.55,283.80 254.45,283.80 250.50,291.80" fill="#fff" stroke="#ff0000" stroke-width="1.2" stroke-linejoin="miter"/>
<polygon points="258.37,291.20 266.27,291.20 262.32,299.20" fill="#ff0000" stroke="#ff0000" stroke-width="1.2" stroke-linejoin="miter"/>
<path d="M272.80,296.20L272.80,292.90M272.80,296.20L275.94,295.18M272.80,296.20L274.74,298.87M272.80,296.20L270.86,298.87M272.80,296.20L269.66,295.18" stroke="#ff0000" stroke-width="1.7" fill="none"/>
<circle cx="237.20" cy="190.10" r="3.7" fill="#000" stroke="#000" stroke-width="1.2"/>
<circle cx="237.20" cy="200.40" r="3.6" fill="#fff" stroke="#000" stroke-width="1.3"/>
<polygon points="233.10,206.90 241.30,206.90 237.20,215.10" fill="#ff0000" stroke="#ff0000" stroke-width="1.2" stroke-linejoin="miter"/>
<polygon points="233.10,217.70 241.30,217.70 237.20,225.90" fill="#fff" stroke="#ff0000" stroke-width="1.3" stroke-linejoin="miter"/>
<text x="247.20" y="193.20" font-size="8.4" text-anchor="start" fill="#000" stroke="#000" stroke-width="0.2" font-weight="bold">Control T only</text>
<text x="247.20" y="203.70" font-size="8.4" text-anchor="start" fill="#000" stroke="#000" stroke-width="0.2" font-weight="bold">A20 + Control T</text>
<text x="247.20" y="214.40" font-size="8.4" text-anchor="start" fill="#ff0000" stroke="#ff0000" stroke-width="0.2" font-weight="bold">CD40 CAR-T only</text>
<text x="247.20" y="225.20" font-size="8.4" text-anchor="start" fill="#000" stroke="#000" stroke-width="0.2" font-weight="bold">A20 <tspan fill="#ff0000" stroke="#ff0000">+ CD40 CAR-T</tspan></text>
<line x1="392.40" y1="233.00" x2="392.40" y2="308.80" stroke="#000" stroke-width="1.2"/>
<line x1="392.40" y1="308.80" x2="506.00" y2="308.80" stroke="#000" stroke-width="1.2"/>
<line x1="389.40" y1="308.80" x2="392.40" y2="308.80" stroke="#000" stroke-width="1.1"/>
<text x="386.80" y="311.60" font-size="7.8" text-anchor="end" fill="#000" stroke="#000" stroke-width="0.2" font-weight="bold">0</text>
<line x1="389.40" y1="293.68" x2="392.40" y2="293.68" stroke="#000" stroke-width="1.1"/>
<text x="386.80" y="296.48" font-size="7.8" text-anchor="end" fill="#000" stroke="#000" stroke-width="0.2" font-weight="bold">20</text>
<line x1="389.40" y1="278.56" x2="392.40" y2="278.56" stroke="#000" stroke-width="1.1"/>
<text x="386.80" y="281.36" font-size="7.8" text-anchor="end" fill="#000" stroke="#000" stroke-width="0.2" font-weight="bold">40</text>
<line x1="389.40" y1="263.44" x2="392.40" y2="263.44" stroke="#000" stroke-width="1.1"/>
<text x="386.80" y="266.24" font-size="7.8" text-anchor="end" fill="#000" stroke="#000" stroke-width="0.2" font-weight="bold">60</text>
<line x1="389.40" y1="248.32" x2="392.40" y2="248.32" stroke="#000" stroke-width="1.1"/>
<text x="386.80" y="251.12" font-size="7.8" text-anchor="end" fill="#000" stroke="#000" stroke-width="0.2" font-weight="bold">80</text>
<line x1="389.40" y1="233.20" x2="392.40" y2="233.20" stroke="#000" stroke-width="1.1"/>
<text x="386.80" y="236.00" font-size="7.8" text-anchor="end" fill="#000" stroke="#000" stroke-width="0.2" font-weight="bold">100</text>
<line x1="392.40" y1="308.80" x2="392.40" y2="311.80" stroke="#000" stroke-width="1.1"/>
<text x="392.40" y="320.30" font-size="7.9" text-anchor="middle" fill="#000" stroke="#000" stroke-width="0.2" font-weight="bold">0</text>
<line x1="411.35" y1="308.80" x2="411.35" y2="311.80" stroke="#000" stroke-width="1.1"/>
<text x="411.35" y="320.30" font-size="7.9" text-anchor="middle" fill="#000" stroke="#000" stroke-width="0.2" font-weight="bold">5</text>
<line x1="430.30" y1="308.80" x2="430.30" y2="311.80" stroke="#000" stroke-width="1.1"/>
<text x="430.30" y="320.30" font-size="7.9" text-anchor="middle" fill="#000" stroke="#000" stroke-width="0.2" font-weight="bold">10</text>
<line x1="449.25" y1="308.80" x2="449.25" y2="311.80" stroke="#000" stroke-width="1.1"/>
<text x="449.25" y="320.30" font-size="7.9" text-anchor="middle" fill="#000" stroke="#000" stroke-width="0.2" font-weight="bold">15</text>
<line x1="468.20" y1="308.80" x2="468.20" y2="311.80" stroke="#000" stroke-width="1.1"/>
<text x="468.20" y="320.30" font-size="7.9" text-anchor="middle" fill="#000" stroke="#000" stroke-width="0.2" font-weight="bold">20</text>
<line x1="487.15" y1="308.80" x2="487.15" y2="311.80" stroke="#000" stroke-width="1.1"/>
<text x="487.15" y="320.30" font-size="7.9" text-anchor="middle" fill="#000" stroke="#000" stroke-width="0.2" font-weight="bold">25</text>
<line x1="506.10" y1="308.80" x2="506.10" y2="311.80" stroke="#000" stroke-width="1.1"/>
<text x="506.10" y="320.30" font-size="7.9" text-anchor="middle" fill="#000" stroke="#000" stroke-width="0.2" font-weight="bold">30</text>
<text x="368.30" y="269.90" font-size="9.2" text-anchor="middle" fill="#000" stroke="#000" stroke-width="0.2" font-weight="bold" transform="rotate(-90 368.3 269.9)">Survival (%)</text>
<text x="451.70" y="333.90" font-size="9.0" text-anchor="middle" fill="#000" stroke="#000" stroke-width="0.2" font-weight="bold">Days after tumor injection</text>
<line x1="392.40" y1="233.20" x2="505.60" y2="233.20" stroke="#aaa" stroke-width="1.1"/>
<line x1="392.40" y1="233.20" x2="505.60" y2="233.20" stroke="#000" stroke-width="1.1" stroke-dasharray="2.2,1.4"/>
<polyline points="392.40,233.20 449.25,233.20 449.25,248.32 453.04,248.32 453.04,308.80" fill="none" stroke="#ff0000" stroke-width="1.2" stroke-dasharray="2,1.3"/>
<polyline points="392.40,233.20 449.25,233.20 449.25,278.56 453.04,278.56 453.04,293.68 456.83,293.68 456.83,308.80" fill="none" stroke="#ff0000" stroke-width="1.1"/>
<line x1="414.60" y1="245.60" x2="414.60" y2="238.50" stroke="#000" stroke-width="1.2"/>
<polygon points="414.6,235.6 412.3,240 416.9,240" fill="#000"/>
<text x="415.20" y="254.50" font-size="8.8" text-anchor="middle" fill="#000" stroke="#000" stroke-width="0.2" font-weight="bold">T cell</text>
<text x="504.80" y="244.40" font-size="7.7" text-anchor="end" fill="#000" stroke="#000" stroke-width="0.2" font-weight="bold"><tspan font-style="italic">p</tspan>=0.0013</text>
<text x="464.60" y="271.00" font-size="7.9" text-anchor="middle" fill="#000" stroke="#000" stroke-width="0.2" font-weight="bold">n.s.</text>
<line x1="398.90" y1="191.20" x2="408.60" y2="191.20" stroke="#000" stroke-width="1.1" stroke-dasharray="2.4,1.3"/>
<line x1="398.90" y1="201.10" x2="408.60" y2="201.10" stroke="#bbb" stroke-width="1.8"/>
<line x1="398.90" y1="211.60" x2="408.60" y2="211.60" stroke="#ff0000" stroke-width="1.2" stroke-dasharray="2.4,1.3"/>
<line x1="398.90" y1="222.10" x2="408.60" y2="222.10" stroke="#ff0000" stroke-width="1.2"/>
<text x="413.30" y="193.30" font-size="8.4" text-anchor="start" fill="#000" stroke="#000" stroke-width="0.2" font-weight="bold">Control T only</text>
<text x="413.30" y="203.60" font-size="8.4" text-anchor="start" fill="#000" stroke="#000" stroke-width="0.2" font-weight="bold">A20 + Control T</text>
<text x="413.30" y="214.30" font-size="8.4" text-anchor="start" fill="#ff0000" stroke="#ff0000" stroke-width="0.2" font-weight="bold">CD40 CAR-T only</text>
<text x="413.30" y="225.10" font-size="8.4" text-anchor="start" fill="#000" stroke="#000" stroke-width="0.2" font-weight="bold">A20 <tspan fill="#ff0000" stroke="#ff0000">+ CD40 CAR-T</tspan></text>
<line x1="569.70" y1="229.00" x2="569.70" y2="305.40" stroke="#000" stroke-width="1.1"/>
<line x1="569.70" y1="305.40" x2="682.00" y2="305.40" stroke="#000" stroke-width="1.2"/>
<line x1="566.70" y1="305.40" x2="569.70" y2="305.40" stroke="#000" stroke-width="1.1"/>
<text x="563.60" y="308.10" font-size="7.2" text-anchor="end" fill="#000" stroke="#000" stroke-width="0.2" font-weight="bold">0</text>
<line x1="566.70" y1="290.56" x2="569.70" y2="290.56" stroke="#000" stroke-width="1.1"/>
<text x="563.60" y="293.26" font-size="7.2" text-anchor="end" fill="#000" stroke="#000" stroke-width="0.2" font-weight="bold">200</text>
<line x1="566.70" y1="275.72" x2="569.70" y2="275.72" stroke="#000" stroke-width="1.1"/>
<text x="563.60" y="278.42" font-size="7.2" text-anchor="end" fill="#000" stroke="#000" stroke-width="0.2" font-weight="bold">400</text>
<line x1="566.70" y1="260.88" x2="569.70" y2="260.88" stroke="#000" stroke-width="1.1"/>
<text x="563.60" y="263.58" font-size="7.2" text-anchor="end" fill="#000" stroke="#000" stroke-width="0.2" font-weight="bold">600</text>
<line x1="566.70" y1="246.04" x2="569.70" y2="246.04" stroke="#000" stroke-width="1.1"/>
<text x="563.60" y="248.74" font-size="7.2" text-anchor="end" fill="#000" stroke="#000" stroke-width="0.2" font-weight="bold">800</text>
<line x1="566.70" y1="231.20" x2="569.70" y2="231.20" stroke="#000" stroke-width="1.1"/>
<text x="563.60" y="233.90" font-size="7.2" text-anchor="end" fill="#000" stroke="#000" stroke-width="0.2" font-weight="bold">1000</text>
<text x="539.20" y="265.80" font-size="9.4" text-anchor="middle" fill="#000" stroke="#000" stroke-width="0.2" font-weight="bold" transform="rotate(-90 539.2 265.8)">IL-6 (pg/ml)</text>
<line x1="583.50" y1="305.40" x2="583.50" y2="308.40" stroke="#000" stroke-width="1"/>
<line x1="612.50" y1="305.40" x2="612.50" y2="308.40" stroke="#000" stroke-width="1"/>
<line x1="639.80" y1="305.40" x2="639.80" y2="308.40" stroke="#000" stroke-width="1"/>
<line x1="668.50" y1="305.40" x2="668.50" y2="308.40" stroke="#000" stroke-width="1"/>
<text x="557.60" y="319.40" font-size="7.6" text-anchor="middle" fill="#000" stroke="#000" stroke-width="0.2" font-weight="bold">A20</text>
<text x="583.50" y="319.40" font-size="7.6" text-anchor="middle" fill="#000" stroke="#000" stroke-width="0.2" font-weight="bold">-</text>
<text x="612.50" y="319.40" font-size="7.6" text-anchor="middle" fill="#000" stroke="#000" stroke-width="0.2" font-weight="bold">+</text>
<text x="639.80" y="319.40" font-size="7.6" text-anchor="middle" fill="#000" stroke="#000" stroke-width="0.2" font-weight="bold">-</text>
<text x="668.50" y="319.40" font-size="7.6" text-anchor="middle" fill="#000" stroke="#000" stroke-width="0.2" font-weight="bold">+</text>
<line x1="576.00" y1="324.20" x2="620.40" y2="324.20" stroke="#888" stroke-width="0.9"/>
<line x1="631.40" y1="324.20" x2="675.50" y2="324.20" stroke="#888" stroke-width="0.9"/>
<text x="598.80" y="335.20" font-size="8.4" text-anchor="middle" fill="#000" stroke="#000" stroke-width="0.2" font-weight="bold">Control T</text>
<text x="653.80" y="335.20" font-size="8.4" text-anchor="middle" fill="#ff0000" stroke="#ff0000" stroke-width="0.2" font-weight="bold">CD40 CAR-T</text>
<line x1="583.40" y1="208.20" x2="638.80" y2="208.20" stroke="#000" stroke-width="1.1"/>
<line x1="612.50" y1="221.60" x2="669.20" y2="221.60" stroke="#666" stroke-width="1.1"/>
<line x1="639.80" y1="233.80" x2="669.70" y2="233.80" stroke="#444" stroke-width="1.1"/>
<text x="610.70" y="205.00" font-size="7.6" text-anchor="middle" fill="#000" stroke="#000" stroke-width="0.2" font-weight="bold"><tspan font-style="italic">p</tspan>=0.0009</text>
<text x="640.10" y="218.70" font-size="7.6" text-anchor="middle" fill="#000" stroke="#000" stroke-width="0.2" font-weight="bold"><tspan font-style="italic">p</tspan>=0.0005</text>
<text x="655.70" y="231.30" font-size="7.8" text-anchor="middle" fill="#000" stroke="#000" stroke-width="0.2" font-weight="bold">n.s.</text>
<circle cx="578.50" cy="305.50" r="3.4" fill="#000" stroke="#000" stroke-width="0.3"/>
<circle cx="582.50" cy="305.50" r="3.4" fill="#000" stroke="#000" stroke-width="0.3"/>
<circle cx="586.00" cy="305.50" r="3.4" fill="#000" stroke="#000" stroke-width="0.3"/>
<circle cx="589.50" cy="305.50" r="3.4" fill="#000" stroke="#000" stroke-width="0.3"/>
<rect x="602.80" y="301.90" width="7.0" height="7.0" fill="#000"/>
<rect x="607.00" y="301.90" width="7.0" height="7.0" fill="#000"/>
<rect x="611.00" y="301.90" width="7.0" height="7.0" fill="#000"/>
<rect x="614.10" y="301.90" width="7.0" height="7.0" fill="#000"/>
<rect x="608.50" y="299.90" width="7.0" height="7.0" fill="#000"/>
<rect x="604.50" y="300.30" width="7.0" height="7.0" fill="#000"/>
<polygon points="633.70,278.60 641.50,278.60 637.60,271.60" fill="#000" stroke="#000" stroke-width="0.3" stroke-linejoin="miter"/>
<polygon points="641.50,279.10 649.30,279.10 645.40,272.10" fill="#000" stroke="#000" stroke-width="0.3" stroke-linejoin="miter"/>
<polygon points="629.80,285.90 637.60,285.90 633.70,278.90" fill="#000" stroke="#000" stroke-width="0.3" stroke-linejoin="miter"/>
<polygon points="636.60,287.10 644.40,287.10 640.50,280.10" fill="#000" stroke="#000" stroke-width="0.3" stroke-linejoin="miter"/>
<polygon points="630.50,293.20 638.30,293.20 634.40,286.20" fill="#000" stroke="#000" stroke-width="0.3" stroke-linejoin="miter"/>
<polygon points="641.50,297.50 649.30,297.50 645.40,290.50" fill="#000" stroke="#000" stroke-width="0.3" stroke-linejoin="miter"/>
<polygon points="636.60,299.30 644.40,299.30 640.50,292.30" fill="#000" stroke="#000" stroke-width="0.3" stroke-linejoin="miter"/>
<polygon points="663.80,238.80 671.60,238.80 667.70,245.80" fill="#000" stroke="#000" stroke-width="0.3" stroke-linejoin="miter"/>
<polygon points="663.80,253.40 671.60,253.40 667.70,260.40" fill="#000" stroke="#000" stroke-width="0.3" stroke-linejoin="miter"/>
<polygon points="658.00,259.00 665.80,259.00 661.90,266.00" fill="#000" stroke="#000" stroke-width="0.3" stroke-linejoin="miter"/>
<polygon points="664.60,269.20 672.40,269.20 668.50,276.20" fill="#000" stroke="#000" stroke-width="0.3" stroke-linejoin="miter"/>
<polygon points="658.00,275.20 665.80,275.20 661.90,282.20" fill="#000" stroke="#000" stroke-width="0.3" stroke-linejoin="miter"/>
<polygon points="663.40,285.00 671.20,285.00 667.30,292.00" fill="#000" stroke="#000" stroke-width="0.3" stroke-linejoin="miter"/>
<polygon points="670.10,285.00 677.90,285.00 674.00,292.00" fill="#000" stroke="#000" stroke-width="0.3" stroke-linejoin="miter"/>
<line x1="630.80" y1="284.30" x2="650.20" y2="284.30" stroke="#000" stroke-width="1.3"/>
<line x1="640.50" y1="281.20" x2="640.50" y2="287.70" stroke="#000" stroke-width="1"/>
<line x1="637.50" y1="281.20" x2="643.50" y2="281.20" stroke="#000" stroke-width="1.2"/>
<line x1="637.50" y1="287.70" x2="643.50" y2="287.70" stroke="#000" stroke-width="1.2"/>
<line x1="658.00" y1="270.20" x2="678.20" y2="270.20" stroke="#000" stroke-width="1.3"/>
<line x1="668.50" y1="264.20" x2="668.50" y2="276.30" stroke="#000" stroke-width="1"/>
<line x1="665.00" y1="264.20" x2="672.00" y2="264.20" stroke="#000" stroke-width="1.2"/>
<line x1="665.00" y1="276.30" x2="672.00" y2="276.30" stroke="#000" stroke-width="1.2"/>
<line x1="222.10" y1="384.30" x2="222.10" y2="455.30" stroke="#000" stroke-width="1.2"/>
<line x1="222.10" y1="455.30" x2="329.50" y2="455.30" stroke="#000" stroke-width="1.2"/>
<line x1="219.10" y1="448.00" x2="222.10" y2="448.00" stroke="#000" stroke-width="1.1"/>
<text x="217.30" y="450.80" font-size="7.8" text-anchor="end" fill="#000" stroke="#000" stroke-width="0.2" font-weight="bold">70</text>
<line x1="219.10" y1="432.20" x2="222.10" y2="432.20" stroke="#000" stroke-width="1.1"/>
<text x="217.30" y="435.00" font-size="7.8" text-anchor="end" fill="#000" stroke="#000" stroke-width="0.2" font-weight="bold">80</text>
<line x1="219.10" y1="416.40" x2="222.10" y2="416.40" stroke="#000" stroke-width="1.1"/>
<text x="217.30" y="419.20" font-size="7.8" text-anchor="end" fill="#000" stroke="#000" stroke-width="0.2" font-weight="bold">90</text>
<line x1="219.10" y1="400.60" x2="222.10" y2="400.60" stroke="#000" stroke-width="1.1"/>
<text x="217.30" y="403.40" font-size="7.8" text-anchor="end" fill="#000" stroke="#000" stroke-width="0.2" font-weight="bold">100</text>
<line x1="219.10" y1="384.80" x2="222.10" y2="384.80" stroke="#000" stroke-width="1.1"/>
<text x="217.30" y="387.60" font-size="7.8" text-anchor="end" fill="#000" stroke="#000" stroke-width="0.2" font-weight="bold">110</text>
<line x1="230.10" y1="455.30" x2="230.10" y2="458.30" stroke="#000" stroke-width="1.1"/>
<text x="230.10" y="467.80" font-size="7.8" text-anchor="middle" fill="#000" stroke="#000" stroke-width="0.2" font-weight="bold">0</text>
<line x1="249.90" y1="455.30" x2="249.90" y2="458.30" stroke="#000" stroke-width="1.1"/>
<text x="249.90" y="467.80" font-size="7.8" text-anchor="middle" fill="#000" stroke="#000" stroke-width="0.2" font-weight="bold">5</text>
<line x1="269.70" y1="455.30" x2="269.70" y2="458.30" stroke="#000" stroke-width="1.1"/>
<text x="269.70" y="467.80" font-size="7.8" text-anchor="middle" fill="#000" stroke="#000" stroke-width="0.2" font-weight="bold">10</text>
<line x1="289.50" y1="455.30" x2="289.50" y2="458.30" stroke="#000" stroke-width="1.1"/>
<text x="289.50" y="467.80" font-size="7.8" text-anchor="middle" fill="#000" stroke="#000" stroke-width="0.2" font-weight="bold">15</text>
<line x1="309.30" y1="455.30" x2="309.30" y2="458.30" stroke="#000" stroke-width="1.1"/>
<text x="309.30" y="467.80" font-size="7.8" text-anchor="middle" fill="#000" stroke="#000" stroke-width="0.2" font-weight="bold">20</text>
<line x1="329.10" y1="455.30" x2="329.10" y2="458.30" stroke="#000" stroke-width="1.1"/>
<text x="329.10" y="467.80" font-size="7.8" text-anchor="middle" fill="#000" stroke="#000" stroke-width="0.2" font-weight="bold">25</text>
<text x="276.50" y="482.80" font-size="9.06" text-anchor="middle" fill="#000" stroke="#000" stroke-width="0.2" font-weight="bold">Days after CAR-T injection</text>
<text x="198.10" y="418.00" font-size="9.28" text-anchor="middle" fill="#000" stroke="#000" stroke-width="0.2" font-weight="bold" transform="rotate(-90 198.1 418)">Body weight change (%)</text>
<polyline points="222.18,400.60 234.06,410.08 241.98,425.88 249.90,416.40 261.78,432.20 269.70,438.52 277.62,444.05" fill="none" stroke="#000" stroke-width="1"/>
<circle cx="222.18" cy="400.60" r="3.6" fill="#fff" stroke="#000" stroke-width="1.3"/>
<circle cx="234.06" cy="410.08" r="3.6" fill="#fff" stroke="#000" stroke-width="1.3"/>
<circle cx="241.98" cy="425.88" r="3.6" fill="#fff" stroke="#000" stroke-width="1.3"/>
<circle cx="249.90" cy="416.40" r="3.6" fill="#fff" stroke="#000" stroke-width="1.3"/>
<circle cx="261.78" cy="432.20" r="3.6" fill="#fff" stroke="#000" stroke-width="1.3"/>
<circle cx="269.70" cy="438.52" r="3.6" fill="#fff" stroke="#000" stroke-width="1.3"/>
<circle cx="277.62" cy="444.05" r="3.6" fill="#fff" stroke="#000" stroke-width="1.3"/>
<polyline points="222.18,400.60 234.06,401.39 241.98,396.65 249.90,401.39 261.78,392.70 269.70,395.86 277.62,396.65 289.50,394.28 305.34,391.12 317.22,391.91" fill="none" stroke="#000" stroke-width="1"/>
<circle cx="222.18" cy="400.60" r="3.7" fill="#000" stroke="#000" stroke-width="1.2"/>
<circle cx="234.06" cy="401.39" r="3.7" fill="#000" stroke="#000" stroke-width="1.2"/>
<circle cx="241.98" cy="396.65" r="3.7" fill="#000" stroke="#000" stroke-width="1.2"/>
<circle cx="249.90" cy="401.39" r="3.7" fill="#000" stroke="#000" stroke-width="1.2"/>
<circle cx="261.78" cy="392.70" r="3.7" fill="#000" stroke="#000" stroke-width="1.2"/>
<circle cx="269.70" cy="395.86" r="3.7" fill="#000" stroke="#000" stroke-width="1.2"/>
<circle cx="277.62" cy="396.65" r="3.7" fill="#000" stroke="#000" stroke-width="1.2"/>
<circle cx="289.50" cy="394.28" r="3.7" fill="#000" stroke="#000" stroke-width="1.2"/>
<circle cx="305.34" cy="391.12" r="3.7" fill="#000" stroke="#000" stroke-width="1.2"/>
<circle cx="317.22" cy="391.91" r="3.7" fill="#000" stroke="#000" stroke-width="1.2"/>
<path d="M288.60,445.50L288.60,442.20M288.60,445.50L291.74,444.48M288.60,445.50L290.54,448.17M288.60,445.50L286.66,448.17M288.60,445.50L285.46,444.48" stroke="#ff0000" stroke-width="1.7" fill="none"/>
<circle cx="288.30" cy="412.20" r="3.6" fill="#fff" stroke="#000" stroke-width="1.3"/>
<circle cx="288.30" cy="423.00" r="3.7" fill="#000" stroke="#000" stroke-width="1.2"/>
<text x="297.60" y="415.30" font-size="8.3" text-anchor="start" fill="#000" stroke="#000" stroke-width="0.2" font-weight="bold">WT</text>
<text x="297.60" y="426.20" font-size="8.3" text-anchor="start" fill="#000" stroke="#000" stroke-width="0.2" font-weight="bold">CD40-/-</text>
<line x1="396.20" y1="379.00" x2="396.20" y2="454.20" stroke="#000" stroke-width="1.2"/>
<line x1="396.20" y1="454.20" x2="509.50" y2="454.20" stroke="#000" stroke-width="1.2"/>
<line x1="393.20" y1="454.20" x2="396.20" y2="454.20" stroke="#000" stroke-width="1.1"/>
<text x="390.80" y="456.90" font-size="7.5" text-anchor="end" fill="#000" stroke="#000" stroke-width="0.2" font-weight="bold">0</text>
<line x1="393.20" y1="439.18" x2="396.20" y2="439.18" stroke="#000" stroke-width="1.1"/>
<text x="390.80" y="441.88" font-size="7.5" text-anchor="end" fill="#000" stroke="#000" stroke-width="0.2" font-weight="bold">20</text>
<line x1="393.20" y1="424.16" x2="396.20" y2="424.16" stroke="#000" stroke-width="1.1"/>
<text x="390.80" y="426.86" font-size="7.5" text-anchor="end" fill="#000" stroke="#000" stroke-width="0.2" font-weight="bold">40</text>
<line x1="393.20" y1="409.14" x2="396.20" y2="409.14" stroke="#000" stroke-width="1.1"/>
<text x="390.80" y="411.84" font-size="7.5" text-anchor="end" fill="#000" stroke="#000" stroke-width="0.2" font-weight="bold">60</text>
<line x1="393.20" y1="394.12" x2="396.20" y2="394.12" stroke="#000" stroke-width="1.1"/>
<text x="390.80" y="396.82" font-size="7.5" text-anchor="end" fill="#000" stroke="#000" stroke-width="0.2" font-weight="bold">80</text>
<line x1="393.20" y1="379.10" x2="396.20" y2="379.10" stroke="#000" stroke-width="1.1"/>
<text x="390.80" y="381.80" font-size="7.5" text-anchor="end" fill="#000" stroke="#000" stroke-width="0.2" font-weight="bold">100</text>
<line x1="396.20" y1="454.20" x2="396.20" y2="457.20" stroke="#000" stroke-width="1.1"/>
<text x="396.20" y="467.90" font-size="7.6" text-anchor="middle" fill="#000" stroke="#000" stroke-width="0.2" font-weight="bold">0</text>
<line x1="416.84" y1="454.20" x2="416.84" y2="457.20" stroke="#000" stroke-width="1.1"/>
<text x="416.84" y="467.90" font-size="7.6" text-anchor="middle" fill="#000" stroke="#000" stroke-width="0.2" font-weight="bold">10</text>
<line x1="437.48" y1="454.20" x2="437.48" y2="457.20" stroke="#000" stroke-width="1.1"/>
<text x="437.48" y="467.90" font-size="7.6" text-anchor="middle" fill="#000" stroke="#000" stroke-width="0.2" font-weight="bold">20</text>
<line x1="458.12" y1="454.20" x2="458.12" y2="457.20" stroke="#000" stroke-width="1.1"/>
<text x="458.12" y="467.90" font-size="7.6" text-anchor="middle" fill="#000" stroke="#000" stroke-width="0.2" font-weight="bold">30</text>
<line x1="478.76" y1="454.20" x2="478.76" y2="457.20" stroke="#000" stroke-width="1.1"/>
<text x="478.76" y="467.90" font-size="7.6" text-anchor="middle" fill="#000" stroke="#000" stroke-width="0.2" font-weight="bold">40</text>
<line x1="499.40" y1="454.20" x2="499.40" y2="457.20" stroke="#000" stroke-width="1.1"/>
<text x="499.40" y="467.90" font-size="7.6" text-anchor="middle" fill="#000" stroke="#000" stroke-width="0.2" font-weight="bold">50</text>
<text x="454.50" y="482.80" font-size="9.06" text-anchor="middle" fill="#000" stroke="#000" stroke-width="0.2" font-weight="bold">Days after CAR-T injection</text>
<text x="370.80" y="415.40" font-size="9.2" text-anchor="middle" fill="#000" stroke="#000" stroke-width="0.2" font-weight="bold" transform="rotate(-90 370.8 415.4)">Survival (%)</text>
<line x1="396.20" y1="379.10" x2="509.00" y2="379.10" stroke="#000" stroke-width="1.1" stroke-dasharray="3,1.8"/>
<polyline points="396.20,379.10 402.39,379.10 402.39,386.61 423.03,386.61 423.03,401.63 425.10,401.63 425.10,416.65 427.16,416.65 427.16,424.16 439.54,424.16 439.54,431.67 445.74,431.67 445.74,439.18 464.31,439.18 464.31,446.69 470.50,446.69 470.50,454.20" fill="none" stroke="#222" stroke-width="1.1"/>
<text x="505.20" y="389.40" font-size="7.8" text-anchor="end" fill="#000" stroke="#000" stroke-width="0.2" font-weight="bold"><tspan font-style="italic">p</tspan>&lt;0.0001</text>
<line x1="456.20" y1="410.90" x2="466.00" y2="410.90" stroke="#666" stroke-width="2"/>
<line x1="456.20" y1="420.20" x2="466.00" y2="420.20" stroke="#000" stroke-width="1.2" stroke-dasharray="2.4,1.4"/>
<text x="470.10" y="414.00" font-size="8.6" text-anchor="start" fill="#000" stroke="#000" stroke-width="0.2" font-weight="bold">WT</text>
<text x="470.10" y="423.60" font-size="8.6" text-anchor="start" fill="#000" stroke="#000" stroke-width="0.2" font-weight="bold">CD40-/-</text>
<line x1="568.20" y1="386.00" x2="568.20" y2="463.40" stroke="#000" stroke-width="1.1"/>
<line x1="568.20" y1="463.40" x2="681.00" y2="463.40" stroke="#000" stroke-width="1.2"/>
<line x1="565.20" y1="463.40" x2="568.20" y2="463.40" stroke="#000" stroke-width="1.1"/>
<text x="562.20" y="466.20" font-size="7.9" text-anchor="end" fill="#000" stroke="#000" stroke-width="0.2" font-weight="bold">0</text>
<line x1="565.20" y1="445.70" x2="568.20" y2="445.70" stroke="#000" stroke-width="1.1"/>
<text x="562.20" y="448.50" font-size="7.9" text-anchor="end" fill="#000" stroke="#000" stroke-width="0.2" font-weight="bold">300</text>
<line x1="565.20" y1="428.00" x2="568.20" y2="428.00" stroke="#000" stroke-width="1.1"/>
<text x="562.20" y="430.80" font-size="7.9" text-anchor="end" fill="#000" stroke="#000" stroke-width="0.2" font-weight="bold">600</text>
<line x1="565.20" y1="410.30" x2="568.20" y2="410.30" stroke="#000" stroke-width="1.1"/>
<text x="562.20" y="413.10" font-size="7.9" text-anchor="end" fill="#000" stroke="#000" stroke-width="0.2" font-weight="bold">900</text>
<line x1="565.20" y1="392.60" x2="568.20" y2="392.60" stroke="#000" stroke-width="1.1"/>
<text x="562.20" y="395.40" font-size="7.9" text-anchor="end" fill="#000" stroke="#000" stroke-width="0.2" font-weight="bold">1200</text>
<text x="540.40" y="423.40" font-size="9.3" text-anchor="middle" fill="#000" stroke="#000" stroke-width="0.2" font-weight="bold" transform="rotate(-90 540.4 423.4)">IL-6 (pg/ml)</text>
<line x1="597.30" y1="463.40" x2="597.30" y2="466.40" stroke="#000" stroke-width="1"/>
<line x1="655.60" y1="463.40" x2="655.60" y2="466.40" stroke="#000" stroke-width="1"/>
<text x="597.50" y="480.60" font-size="8.4" text-anchor="middle" fill="#000" stroke="#000" stroke-width="0.2" font-weight="bold">WT</text>
<text x="656.70" y="480.60" font-size="8.6" text-anchor="middle" fill="#000" stroke="#000" stroke-width="0.2" font-weight="bold">CD40-/-</text>
<line x1="599.60" y1="387.10" x2="653.10" y2="387.10" stroke="#000" stroke-width="1.1"/>
<text x="625.00" y="383.80" font-size="7.9" text-anchor="middle" fill="#000" stroke="#000" stroke-width="0.2" font-weight="bold"><tspan font-style="italic">p</tspan>=0.0001</text>
<circle cx="597.30" cy="396.14" r="3.5" fill="#000" stroke="#000" stroke-width="0.3"/>
<circle cx="586.00" cy="422.10" r="3.5" fill="#000" stroke="#000" stroke-width="0.3"/>
<circle cx="597.30" cy="416.20" r="3.5" fill="#000" stroke="#000" stroke-width="0.3"/>
<circle cx="609.00" cy="418.56" r="3.5" fill="#000" stroke="#000" stroke-width="0.3"/>
<circle cx="597.30" cy="428.00" r="3.5" fill="#000" stroke="#000" stroke-width="0.3"/>
<circle cx="603.00" cy="448.06" r="3.5" fill="#000" stroke="#000" stroke-width="0.3"/>
<circle cx="586.00" cy="451.60" r="3.5" fill="#000" stroke="#000" stroke-width="0.3"/>
<circle cx="597.30" cy="453.37" r="3.5" fill="#000" stroke="#000" stroke-width="0.3"/>
<circle cx="609.00" cy="452.78" r="3.5" fill="#000" stroke="#000" stroke-width="0.3"/>
<line x1="578.30" y1="431.60" x2="616.70" y2="431.60" stroke="#555" stroke-width="1.4"/>
<line x1="597.90" y1="424.80" x2="597.90" y2="438.30" stroke="#555" stroke-width="1.1"/>
<line x1="592.90" y1="424.80" x2="602.90" y2="424.80" stroke="#555" stroke-width="1.3"/>
<line x1="592.90" y1="438.30" x2="602.90" y2="438.30" stroke="#555" stroke-width="1.3"/>
<polygon points="637.50,459.10 645.50,459.10 641.50,451.90" fill="#000" stroke="#000" stroke-width="0.3" stroke-linejoin="miter"/>
<polygon points="638.50,465.60 646.50,465.60 642.50,458.40" fill="#000" stroke="#000" stroke-width="0.3" stroke-linejoin="miter"/>
<polygon points="645.00,465.60 653.00,465.60 649.00,458.40" fill="#000" stroke="#000" stroke-width="0.3" stroke-linejoin="miter"/>
<polygon points="651.00,465.60 659.00,465.60 655.00,458.40" fill="#000" stroke="#000" stroke-width="0.3" stroke-linejoin="miter"/>
<polygon points="657.00,465.60 665.00,465.60 661.00,458.40" fill="#000" stroke="#000" stroke-width="0.3" stroke-linejoin="miter"/>
<polygon points="663.00,465.60 671.00,465.60 667.00,458.40" fill="#000" stroke="#000" stroke-width="0.3" stroke-linejoin="miter"/>
<polygon points="667.00,465.60 675.00,465.60 671.00,458.40" fill="#000" stroke="#000" stroke-width="0.3" stroke-linejoin="miter"/>
<polygon points="648.00,465.10 656.00,465.10 652.00,457.90" fill="#000" stroke="#000" stroke-width="0.3" stroke-linejoin="miter"/>
<polygon points="654.00,464.60 662.00,464.60 658.00,457.40" fill="#000" stroke="#000" stroke-width="0.3" stroke-linejoin="miter"/>
<line x1="635.60" y1="463.00" x2="674.50" y2="463.00" stroke="#000" stroke-width="1.3"/>
</svg>
</body></html>
